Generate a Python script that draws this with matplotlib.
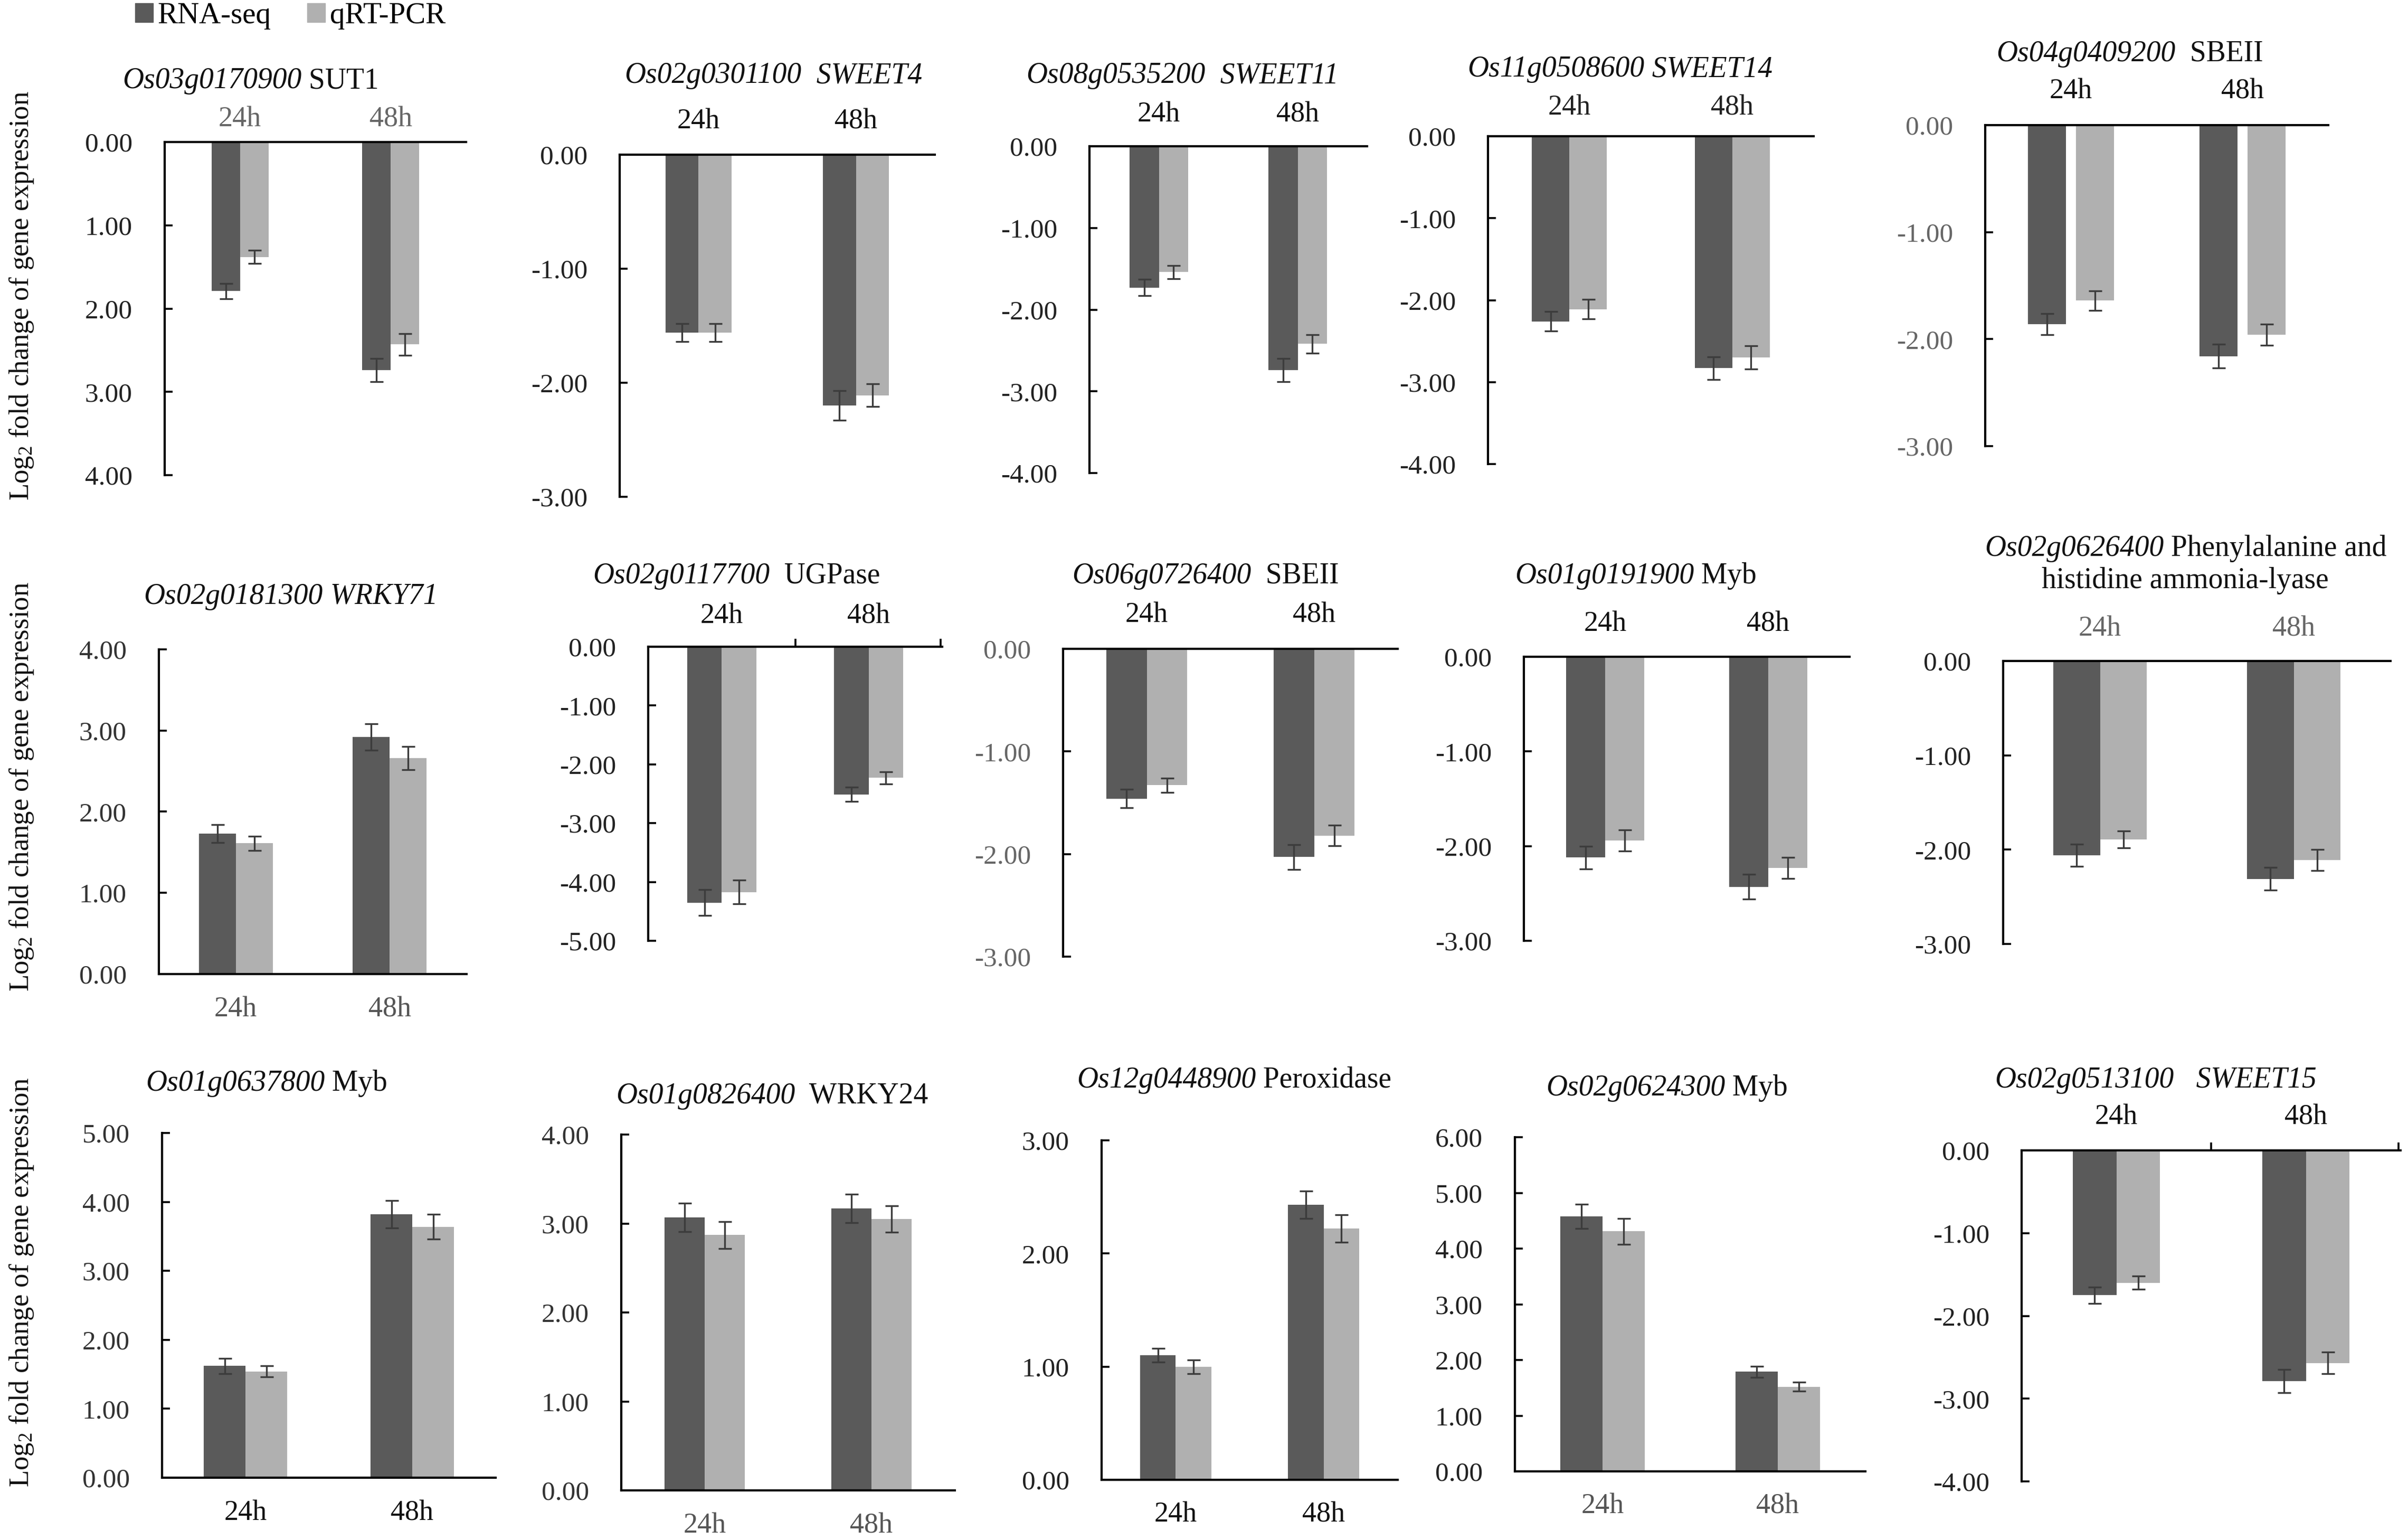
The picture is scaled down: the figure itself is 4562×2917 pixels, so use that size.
import numpy as np
import matplotlib
matplotlib.use('Agg')
import matplotlib.pyplot as plt
from matplotlib.patches import Patch
from matplotlib.ticker import FormatStrFormatter
from matplotlib.transforms import blended_transform_factory

plt.rcParams['font.family'] = ['Liberation Serif', 'DejaVu Serif']
plt.rcParams['mathtext.fontset'] = 'custom'
plt.rcParams['mathtext.rm'] = 'Liberation Serif'
plt.rcParams['mathtext.it'] = 'Liberation Serif:italic'

# ---- data ----
genes = ['Os03g0170900', 'Os02g0301100', 'Os08g0535200', 'Os11g0508600', 'Os04g0409200',
         'Os02g0181300', 'Os02g0117700', 'Os06g0726400', 'Os01g0191900', 'Os02g0626400',
         'Os01g0637800', 'Os01g0826400', 'Os12g0448900', 'Os02g0624300', 'Os02g0513100']
names = ['SUT1', 'SWEET4', 'SWEET11', 'SWEET14', 'SBEII',
         'WRKY71', 'UGPase', 'SBEII', 'Myb', 'Phenylalanine and',
         'Myb', 'WRKY24', 'Peroxidase', 'Myb', 'SWEET15']
name_italic = [False, True, True, True, False,
               True, False, False, False, False,
               False, False, False, False, True]
times = ['24h', '48h']

rna_seq = [[1.79, 2.74], [-1.56, -2.20], [-1.73, -2.74], [-2.26, -2.83], [-1.86, -2.16],
           [1.73, 2.92], [-4.35, -2.51], [-1.46, -2.03], [-2.12, -2.43], [-2.06, -2.31],
           [1.62, 3.82], [3.07, 3.17], [1.10, 2.43], [4.58, 1.79], [-1.75, -2.79]]
rna_err = [[0.09, 0.14], [0.08, 0.13], [0.10, 0.14], [0.12, 0.14], [0.10, 0.11],
           [0.11, 0.16], [0.22, 0.12], [0.09, 0.12], [0.12, 0.13], [0.12, 0.12],
           [0.11, 0.20], [0.16, 0.16], [0.06, 0.12], [0.22, 0.10], [0.10, 0.14]]
qrt_pcr = [[1.38, 2.43], [-1.56, -2.11], [-1.54, -2.42], [-2.11, -2.70], [-1.64, -1.96],
           [1.61, 2.66], [-4.17, -2.23], [-1.33, -1.82], [-1.94, -2.23], [-1.89, -2.11],
           [1.54, 3.64], [2.87, 3.05], [1.00, 2.22], [4.31, 1.52], [-1.60, -2.57]]
qrt_err = [[0.08, 0.13], [0.08, 0.10], [0.08, 0.11], [0.12, 0.14], [0.09, 0.10],
           [0.09, 0.14], [0.20, 0.10], [0.07, 0.10], [0.11, 0.11], [0.09, 0.11],
           [0.08, 0.18], [0.15, 0.15], [0.06, 0.12], [0.23, 0.08], [0.08, 0.13]]
y_ranges = [(0, 4), (-3, 0), (-4, 0), (-4, 0), (-3, 0),
            (0, 4), (-5, 0), (-3, 0), (-3, 0), (-3, 0),
            (0, 5), (0, 4), (0, 3), (0, 6), (-4, 0)]
flipped = [True] + [False] * 14   # first panel: axis drawn downwards with positive labels

# ---- layout (pixels of the 4562 x 2917 image) ----
W, H = 4562, 2917
boxes = [(312, 883, 269, 900), (1174, 1771, 293, 941), (2064, 2590, 277, 896),
         (2819, 3436, 258, 879), (3761, 4411, 237, 845),
         (301, 884, 1230, 1845), (1228, 1785, 1225, 1782), (2014, 2648, 1229, 1812),
         (2887, 3504, 1244, 1782), (3795, 4529, 1252, 1788),
         (307, 939, 2146, 2799), (1177, 1809, 2149, 2823), (2087, 2648, 2160, 2803),
         (2870, 3534, 2154, 2787), (3830, 4548, 2179, 2806)]
title_pos = [(475, 153), (1465, 143), (2240, 143), (3069, 131), (4035, 102),
             (551, 1130), (1395, 1091), (2284, 1091), (3099, 1091), (4141, 1039),
             (505, 2052), (1463, 2076), (2338, 2046), (3158, 2061), (4084, 2046)]
title_sep = [1, 2, 2, 1, 2, 1, 2, 2, 1, 1, 1, 2, 1, 1, 3]
cat_y = [226, 230, 217, 204, 173,
         1912, 1167, 1165, 1182, 1191,
         2866, 2890, 2869, 2853, 2116]
bar_w = [0.19, 0.21, 0.21, 0.23, 0.22,
         0.24, 0.235, 0.24, 0.24, 0.24,
         0.25, 0.24, 0.24, 0.24, 0.23]
bar_gap = [0, 0, 0, 0, 0.06, 0, 0, 0, 0, 0, 0, 0, 0, 0, 0]
cat_color = ['#666666', '#111111', '#111111', '#222222', '#111111',
             '#555555', '#111111', '#111111', '#111111', '#666666',
             '#111111', '#555555', '#111111', '#555555', '#111111']
tick_color = ['#222222', '#222222', '#222222', '#222222', '#666666',
              '#333333', '#222222', '#666666', '#222222', '#222222',
              '#333333', '#333333', '#222222', '#222222', '#222222']
boundary_ticks = [6, 14]

DARK = '#5a5a5a'
LIGHT = '#b0b0b0'
ERR = '#3c3c3c'
TFS = 40

fig = plt.figure(figsize=(W / 100, H / 100), dpi=100)
renderer = fig.canvas.get_renderer()

for i in range(len(genes)):
    x0, x1, yt, yb = boxes[i]
    ax = fig.add_axes([x0 / W, 1 - yb / H, (x1 - x0) / W, (yb - yt) / H])
    x = np.arange(2)
    w, g = bar_w[i], bar_gap[i]
    ekw = dict(ecolor=ERR, elinewidth=2.4, capsize=9, capthick=2.4)
    ax.bar(x - (w + g) / 2, rna_seq[i], w, yerr=rna_err[i], color=DARK, error_kw=ekw, zorder=2)
    ax.bar(x + (w + g) / 2, qrt_pcr[i], w, yerr=qrt_err[i], color=LIGHT, error_kw=ekw, zorder=2)
    ax.set_xlim(-0.5, 1.5)
    lo, hi = y_ranges[i]
    if flipped[i]:
        ax.set_ylim(hi, lo)
    else:
        ax.set_ylim(lo, hi)
    ax.set_yticks(np.arange(lo, hi + 1))
    ax.yaxis.set_major_formatter(FormatStrFormatter('%.2f'))
    ax.tick_params(axis='y', direction='in', length=11, width=2.6, pad=44,
                   labelsize=37, labelcolor=tick_color[i], color='black')
    zero_top = flipped[i] or hi == 0
    ax.spines['right'].set_visible(False)
    ax.spines['top'].set_visible(zero_top)
    ax.spines['bottom'].set_visible(not zero_top)
    for s in ['left', 'top', 'bottom']:
        ax.spines[s].set_linewidth(3)
    if i in boundary_ticks:
        ax.xaxis.set_ticks_position('top')
        ax.set_xticks([0.5, 1.49])
        ax.set_xticklabels([])
        ax.tick_params(axis='x', direction='out', length=11, width=2.6)
    else:
        ax.set_xticks([])
    tr = blended_transform_factory(ax.transData, fig.transFigure)
    for j, lab in enumerate(times):
        ax.text(j, 1 - cat_y[i] / H, lab, transform=tr, ha='center', va='center',
                fontsize=39, color=cat_color[i])

    # panel title: italic gene id followed by the gene name
    tx, ty = title_pos[i]
    base = 1 - (ty + 14) / H
    t1 = fig.text(0, base, genes[i], fontstyle='italic', fontsize=TFS,
                  ha='left', va='baseline', color='#111111')
    t2 = fig.text(0, base, ' ' * title_sep[i] + names[i], fontsize=TFS,
                  fontstyle='italic' if name_italic[i] else 'normal',
                  ha='left', va='baseline', color='#111111')
    w1 = t1.get_window_extent(renderer).width
    w2 = t2.get_window_extent(renderer).width
    left = tx - (w1 + w2) / 2
    t1.set_x(left / W)
    t2.set_x((left + w1) / W)

# second title line of the PAL panel
fig.text(4140 / W, 1 - 1100 / H, 'histidine ammonia-lyase', ha='center', va='center',
         fontsize=TFS, color='#111111')

# shared y labels
for yc in [560, 1490, 2429]:
    fig.text(41 / W, 1 - yc / H, r'Log$_2$ fold change of gene expression', rotation=90,
             ha='center', va='center', fontsize=38, color='#111111')

handles = [Patch(color=DARK, label='RNA-seq'), Patch(color=LIGHT, label='qRT-PCR')]
fig.legend(handles=handles, loc='upper left', bbox_to_anchor=(256 / W, 1 - 4 / H), ncol=2,
           frameon=False, fontsize=41, handlelength=0.6, handleheight=0.6,
           handletextpad=0.15, columnspacing=1.2, borderpad=0, borderaxespad=0)

fig.savefig('out.png', dpi=100)
